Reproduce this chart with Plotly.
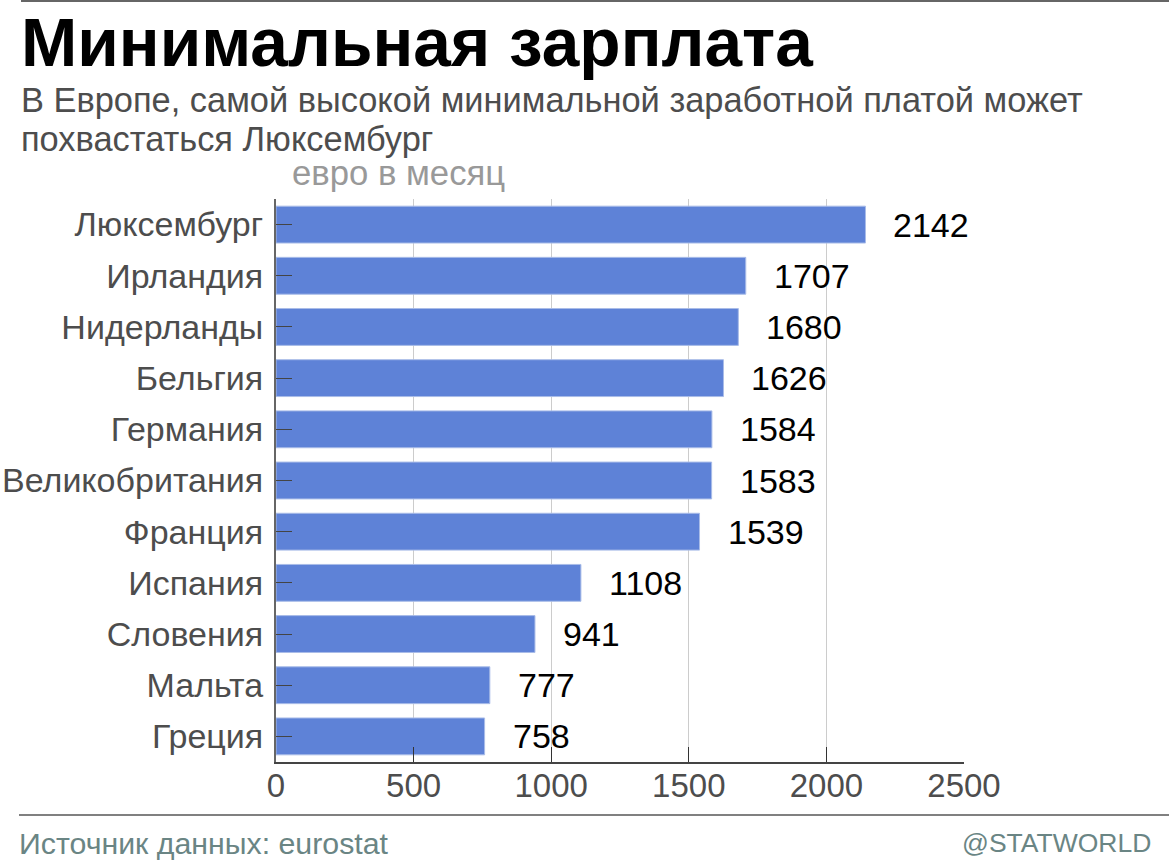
import plotly.graph_objects as go

FONT = "Liberation Sans"
BAR = "#5e82d7"

countries = [
    "Люксембург", "Ирландия", "Нидерланды", "Бельгия", "Германия", "Великобритания",
    "Франция", "Испания", "Словения", "Мальта", "Греция",
]
wages = [2142, 1707, 1680, 1626, 1584, 1583, 1539, 1108, 941, 777, 758]
x_ticks = [0, 500, 1000, 1500, 2000, 2500]

title = "Минимальная зарплата"
subtitle_1 = "В Европе, самой высокой минимальной заработной платой может"
subtitle_2 = "похвастаться Люксембург"
unit = "евро в месяц"
source = "Источник данных: eurostat"
credit = "@STATWORLD"

W, H = 1169, 863

# plot area in page pixels
LEFT, RIGHT, TOP, BOTTOM = 276, 964, 199, 762


def px(x):
    return (x - LEFT) / (RIGHT - LEFT)


def py(y):
    return (BOTTOM - y) / (BOTTOM - TOP)


def page_text(text, x, y, size, color, bold=False, xanchor="left"):
    return dict(
        text=f"<b>{text}</b>" if bold else text,
        xref="paper",
        yref="paper",
        x=px(x),
        y=py(y),
        xanchor=xanchor,
        yanchor="middle",
        showarrow=False,
        borderpad=0,
        font=dict(family=FONT, size=size, color=color),
    )


fig = go.Figure(
    go.Bar(
        x=wages,
        y=countries,
        orientation="h",
        width=0.72,
        marker=dict(color=BAR, line=dict(color="#a9bce8", width=1)),
        hoverinfo="x+y",
    )
)

annotations = [
    dict(
        x=v,
        y=c,
        text=str(v),
        xref="x",
        yref="y",
        xanchor="left",
        yanchor="middle",
        xshift=26,
        yshift=0,
        showarrow=False,
        font=dict(family=FONT, size=34, color="black"),
    )
    for c, v in zip(countries, wages)
]
annotations += [
    page_text(title, 20, 42, 67.6, "black", bold=True),
    page_text(subtitle_1, 20, 100, 34.4, "#4d4d4d"),
    page_text(subtitle_2, 20, 139, 34.4, "#4d4d4d"),
    page_text(unit, 291, 173, 34.7, "#999999"),
    page_text(source, 18, 843, 30.3, "#6a8584"),
    page_text(credit, 1152, 843, 26.5, "#6a8584", xanchor="right"),
]

shapes = [
    dict(type="line", xref="paper", yref="paper", x0=px(21), x1=px(1169), y0=py(1), y1=py(1),
         line=dict(color="#666666", width=2)),
    dict(type="line", xref="paper", yref="paper", x0=px(19), x1=px(1169), y0=py(815), y1=py(815),
         line=dict(color="#808080", width=2)),
]

fig.update_layout(
    width=W,
    height=H,
    margin=dict(l=LEFT, r=W - RIGHT, t=TOP, b=H - BOTTOM, pad=0, autoexpand=False),
    paper_bgcolor="white",
    plot_bgcolor="white",
    showlegend=False,
    annotations=annotations,
    shapes=shapes,
    font=dict(family=FONT),
)
fig.update_xaxes(
    range=[0, 2500],
    tickvals=x_ticks,
    ticks="inside",
    ticklen=15,
    tickcolor="#333333",
    tickfont=dict(size=33, color="#4d4d4d"),
    ticklabelstandoff=-7,
    showgrid=True,
    gridcolor="#cccccc",
    gridwidth=1,
    showline=True,
    linecolor="#444444",
    linewidth=2,
    zeroline=False,
)
fig.update_yaxes(
    autorange="reversed",
    ticks="inside",
    ticklen=16,
    tickcolor="#444444",
    tickfont=dict(size=34, color="#4d4d4d"),
    ticklabelstandoff=4,
    showline=True,
    linecolor="#666666",
    linewidth=2,
    showgrid=False,
    zeroline=False,
)

fig.write_html(
    "out.html",
    config=dict(displayModeBar=False),
    post_script="document.body.style.margin = '0';",
)
